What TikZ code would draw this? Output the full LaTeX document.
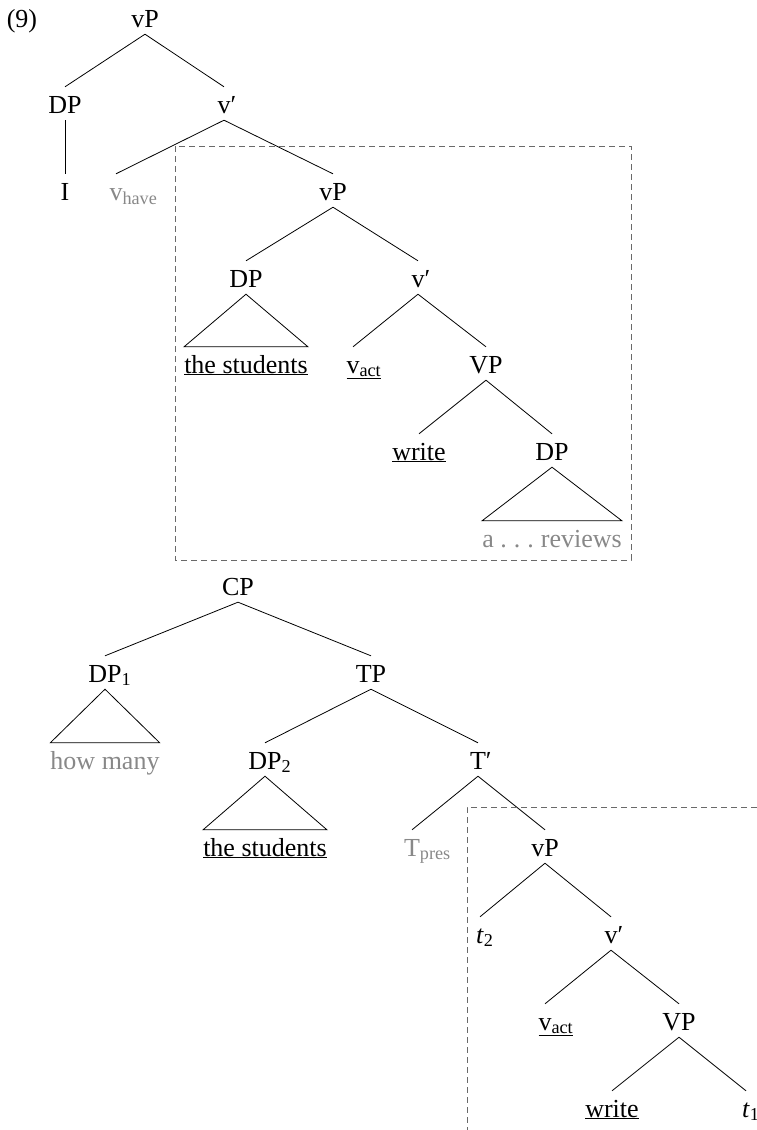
\documentclass[tikz,border=0pt]{standalone}
\usepackage{fontspec}
\setmainfont{Liberation Serif}
\definecolor{lightgrey}{RGB}{136,136,136}
\definecolor{boxgrey}{RGB}{105,105,105}
\begin{document}
\begin{tikzpicture}[x=1pt,y=-1pt,
  lab/.style={anchor=base,inner sep=0pt,text height=26pt,text depth=7pt,font=\fontsize{26}{30}\selectfont},
  grey/.style={text=lightgrey},
  edge/.style={line width=0.8pt},
  dbox/.style={draw=boxgrey,line width=0.8pt,dash pattern=on 6pt off 4pt}]
\useasboundingbox (0,0) rectangle (757,1130);
% ---------- first tree ----------
\node[lab] (ex) at (22,27) {(9)};
\node[lab] (vP1) at (145,27) {vP};
\node[lab] (DPa) at (65,113) {DP};
\node[lab] (vbar1) at (224,113) {v\rlap{′}};
\node[lab] (I) at (65,200) {I};
\node[lab,grey] (vhave) at (116,200) {v\rlap{\textsubscript{have}}};
\node[lab] (vP2) at (333,200) {vP};
\node[lab] (DPb) at (246,287) {DP};
\node[lab] (vbar2) at (418,287) {v\rlap{′}};
\node[lab] (stud1) at (246,373) {\underline{the students}};
\node[lab] (vact1) at (353,373) {\rlap{\underline{v\textsubscript{act}}}\phantom{v}};
\node[lab] (VP1) at (486,373) {VP};
\node[lab] (write1) at (419,460) {\underline{write}};
\node[lab] (DPc) at (552,460) {DP};
\node[lab,grey] (rev) at (552,547) {a .\kern0.27em.\kern0.27em.\kern0.27em reviews};
\draw[edge] (vP1.south) -- (DPa.north);
\draw[edge] (vP1.south) -- (vbar1.north);
\draw[edge] (DPa.south) -- (I.north);
\draw[edge] (vbar1.south) -- (vhave.north);
\draw[edge] (vbar1.south) -- (vP2.north);
\draw[edge] (vP2.south) -- (DPb.north);
\draw[edge] (vP2.south) -- (vbar2.north);
\draw[edge] (DPb.south) -- (stud1.north west) -- (stud1.north east) -- cycle;
\draw[edge] (vbar2.south) -- (vact1.north);
\draw[edge] (vbar2.south) -- (VP1.north);
\draw[edge] (VP1.south) -- (write1.north);
\draw[edge] (VP1.south) -- (DPc.north);
\draw[edge] (DPc.south) -- (rev.north west) -- (rev.north east) -- cycle;
\draw[dbox] (175,146) rectangle (631,560);
% ---------- second tree ----------
\node[lab] (CP) at (238,595) {CP};
\node[lab] (DP1) at (105,682) {DP\rlap{\textsubscript{1}}};
\node[lab] (TP) at (371,682) {TP};
\node[lab,grey] (howmany) at (105,769) {how many};
\node[lab] (DP2) at (265,769) {DP\rlap{\textsubscript{2}}};
\node[lab] (Tbar) at (478,769) {T\rlap{′}};
\node[lab] (stud2) at (265,856) {\underline{the students}};
\node[lab,grey] (Tpres) at (412,856) {T\rlap{\textsubscript{pres}}};
\node[lab] (vP3) at (545,856) {vP};
\node[lab] (t2) at (480,943) {\textit{t}\rlap{\textsubscript{2}}};
\node[lab] (vbar3) at (611,943) {v\rlap{′}};
\node[lab] (vact2) at (545,1030) {\rlap{\underline{v\textsubscript{act}}}\phantom{v}};
\node[lab] (VP2) at (679,1030) {VP};
\node[lab] (write2) at (612,1117) {\underline{write}};
\node[lab] (t1) at (746,1117) {\textit{t}\rlap{\textsubscript{1}}};
\draw[edge] (CP.south) -- (DP1.north);
\draw[edge] (CP.south) -- (TP.north);
\draw[edge] (DP1.south) -- (howmany.north west) -- (howmany.north east) -- cycle;
\draw[edge] (TP.south) -- (DP2.north);
\draw[edge] (TP.south) -- (Tbar.north);
\draw[edge] (DP2.south) -- (stud2.north west) -- (stud2.north east) -- cycle;
\draw[edge] (Tbar.south) -- (Tpres.north);
\draw[edge] (Tbar.south) -- (vP3.north);
\draw[edge] (vP3.south) -- (t2.north);
\draw[edge] (vP3.south) -- (vbar3.north);
\draw[edge] (vbar3.south) -- (vact2.north);
\draw[edge] (vbar3.south) -- (VP2.north);
\draw[edge] (VP2.south) -- (write2.north);
\draw[edge] (VP2.south) -- (t1.north);
\draw[dbox] (757,807) -| (467,1130);
\end{tikzpicture}
\end{document}
